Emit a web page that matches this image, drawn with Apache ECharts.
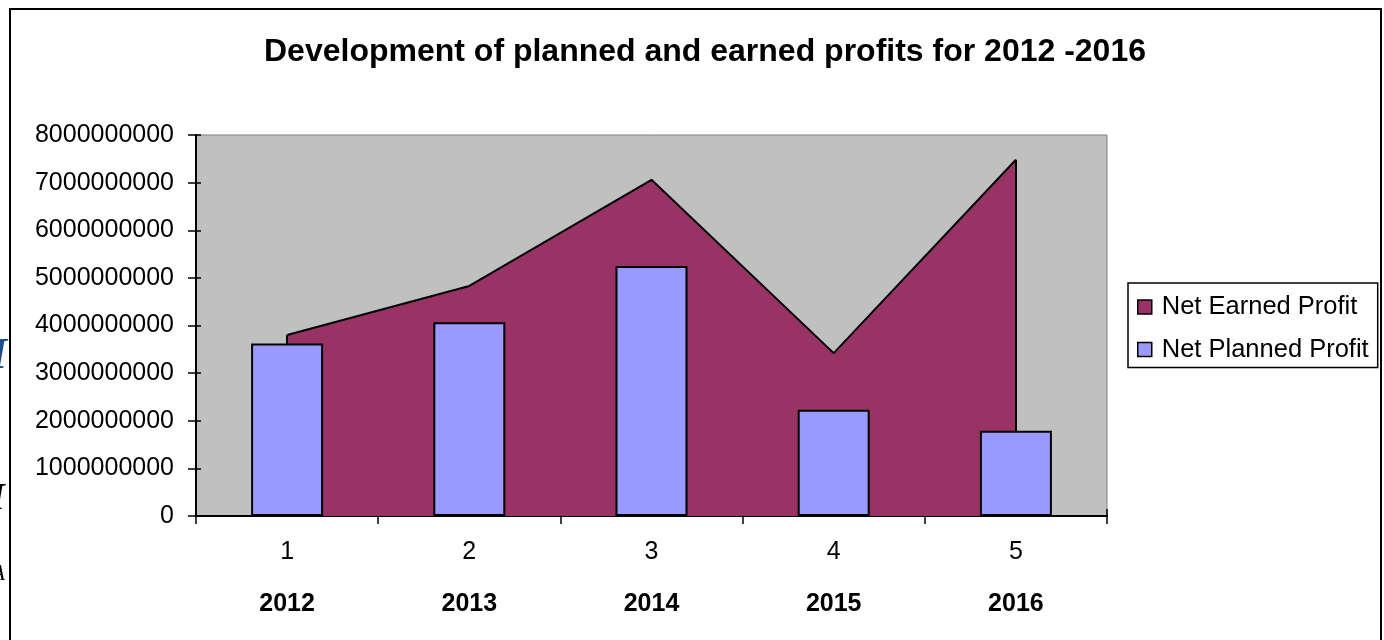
<!DOCTYPE html>
<html>
<head>
<meta charset="utf-8">
<script src="https://cdn.jsdelivr.net/npm/echarts@6/dist/echarts.min.js"></script>
<style>
html,body{margin:0;padding:0;background:#fff;}
#chart{width:1384px;height:640px;}
</style>
</head>
<body>
<div id="chart"></div>
<script>
const titleText = 'Development of planned and earned profits for 2012 -2016';
const categories = ['1', '2', '3', '4', '5'];
const years = ['2012', '2013', '2014', '2015', '2016'];
const earnedName = 'Net Earned Profit';
const plannedName = 'Net Planned Profit';
const earnedProfit = [3800000000, 4830000000, 7060000000, 3420000000, 7480000000];
const plannedProfit = [3620000000, 4070000000, 5250000000, 2230000000, 1790000000];
const yTicks = { min: 0, max: 8000000000, interval: 1000000000 };

const FONT = '"Liberation Sans", Arial, sans-serif';
const chart = echarts.init(document.getElementById('chart'));

const option = {
  animation: false,
  backgroundColor: '#ffffff',
  title: {
    text: titleText,
    left: 700,
    top: 31,
    textAlign: 'center',
    textStyle: { fontFamily: FONT, fontSize: 32, fontWeight: 'bold', color: '#000' }
  },
  legend: {
    orient: 'vertical',
    left: 1128,
    top: 283,
    padding: [11, 9, 5, 9],
    itemGap: 16.5,
    itemWidth: 14,
    itemHeight: 14,
    borderColor: '#000',
    borderWidth: 1.5,
    icon: 'rect',
    data: [earnedName, plannedName],
    textStyle: { fontFamily: FONT, fontSize: 25.5, color: '#000', padding: [0, 0, 0, 5] },
    itemStyle: { borderColor: '#000', borderWidth: 1.5 }
  },
  grid: {
    left: 196, right: 277, top: 135, bottom: 124,
    show: true,
    backgroundColor: '#C0C0C0',
    borderColor: '#808080',
    borderWidth: 1
  },
  xAxis: [
    {
      type: 'category',
      data: categories,
      boundaryGap: true,
      axisLine: { lineStyle: { color: '#000', width: 2 } },
      axisTick: { show: true, length: 8, lineStyle: { color: '#000', width: 1.5 } },
      axisLabel: {
        margin: 10,
        formatter: function (v, i) { return '{n|' + v + '}\n{y|' + years[i] + '}'; },
        rich: {
          n: { fontFamily: FONT, fontSize: 25, color: '#000', lineHeight: 52 },
          y: { fontFamily: FONT, fontSize: 25, fontWeight: 'bold', color: '#000', lineHeight: 52 }
        }
      },
      splitLine: { show: false }
    },
    {
      type: 'category',
      data: categories,
      position: 'bottom',
      boundaryGap: true,
      axisLine: { show: false },
      axisTick: { show: true, inside: true, length: 7, lineStyle: { color: '#000', width: 1.5 } },
      axisLabel: { show: false },
      splitLine: { show: false }
    }
  ],
  yAxis: [
    {
      type: 'value',
      min: yTicks.min, max: yTicks.max, interval: yTicks.interval,
      axisLine: { show: true, lineStyle: { color: '#000', width: 2 } },
      axisTick: { show: true, length: 8, lineStyle: { color: '#000', width: 1.5 } },
      axisLabel: {
        margin: 22, fontFamily: FONT, fontSize: 25, color: '#000',
        formatter: function (v) { return String(v); }
      },
      splitLine: { show: false }
    },
    {
      type: 'value',
      position: 'left',
      min: yTicks.min, max: yTicks.max, interval: yTicks.interval,
      axisLine: { show: false },
      axisTick: { show: true, inside: true, length: 5, lineStyle: { color: '#000', width: 1.5 } },
      axisLabel: { show: false },
      splitLine: { show: false }
    }
  ],
  series: [
    {
      name: earnedName,
      type: 'line',
      data: earnedProfit,
      z: 2,
      symbol: 'none',
      color: '#993366',
      lineStyle: { color: '#000', width: 2 },
      areaStyle: { color: '#993366', opacity: 1 },
      itemStyle: { color: '#993366', borderColor: '#000', borderWidth: 1.5 },
      markLine: {
        silent: true,
        symbol: 'none',
        label: { show: false },
        lineStyle: { color: '#000', width: 2, type: 'solid' },
        data: [
          [{ coord: [0, 0] }, { coord: [0, earnedProfit[0]] }],
          [{ coord: [categories.length - 1, 0] }, { coord: [categories.length - 1, earnedProfit[categories.length - 1]] }]
        ]
      }
    },
    {
      name: plannedName,
      type: 'bar',
      data: plannedProfit,
      z: 5,
      barWidth: 72,
      itemStyle: { color: '#9999FF', borderColor: '#000', borderWidth: 2 }
    }
  ],
  graphic: [
    {
      type: 'text', z: 90, silent: true, x: -10, y: 357,
      style: { text: 'I', font: 'italic bold 44px "Liberation Serif", serif', fill: '#1F4E8C', verticalAlign: 'middle' }
    },
    {
      type: 'text', z: 90, silent: true, x: -10, y: 499,
      style: { text: 'I', font: 'italic bold 38px "Liberation Serif", serif', fill: '#000', verticalAlign: 'middle' }
    },
    {
      type: 'text', z: 90, silent: true, x: -9, y: 574,
      style: { text: 'A', font: 'italic 23px "Liberation Serif", serif', fill: '#000', verticalAlign: 'middle' }
    },
    {
      type: 'rect', z: 95, silent: true,
      shape: { x: 11, y: 300, width: 14, height: 320 },
      style: { fill: '#ffffff' }
    },
    {
      type: 'rect',
      z: 100,
      silent: true,
      shape: { x: 10, y: 9, width: 1371, height: 700 },
      style: { fill: 'none', stroke: '#000', lineWidth: 2 }
    }
  ]
};
chart.setOption(option);
</script>
</body>
</html>
